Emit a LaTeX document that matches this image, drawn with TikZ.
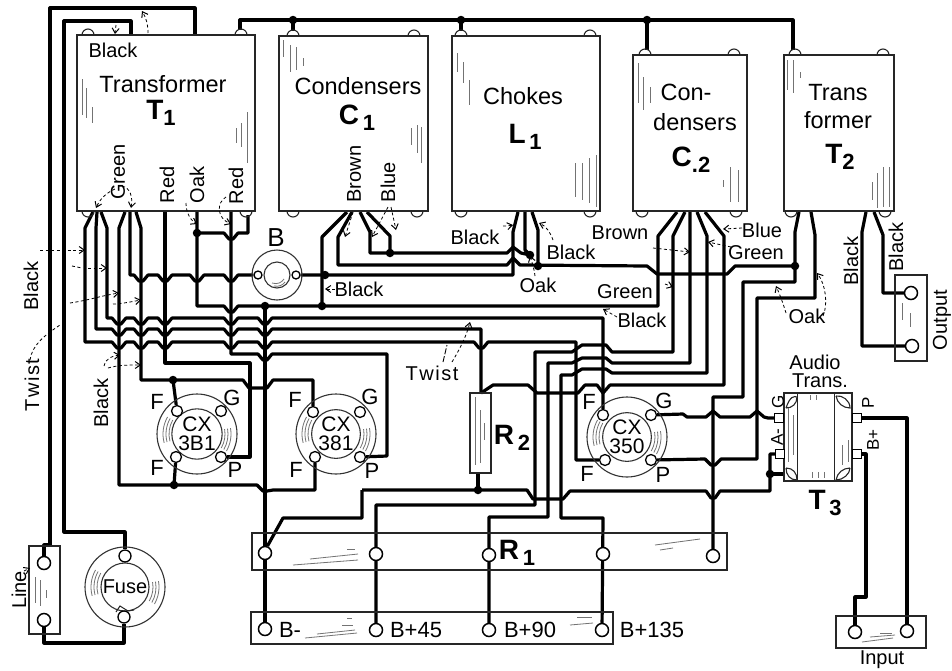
\documentclass[tikz,border=0pt]{standalone}
\usepackage{fontspec}
\setmainfont{Liberation Sans}
\usetikzlibrary{arrows.meta,backgrounds}
\newcommand{\fl}{\fontsize{20}{21}\selectfont}
\newcommand{\fh}{\fontsize{23.5}{25}\selectfont}
\newcommand{\ft}{\fontsize{21}{19}\selectfont}
\newcommand{\fp}{\fontsize{22}{22}\selectfont}
\newcommand{\bigsub}[2]{{\fontsize{28}{28}\selectfont\bfseries #1\raisebox{-6pt}{\fontsize{22}{22}\selectfont\bfseries #2}}}
\newcommand{\Dp}[2]{-- (#1-7,#2) -- (#1-2,#2+6) -- (#1+2,#2+6) -- (#1+7,#2)}
\tikzset{
  wire/.style={line width=3.2pt,line join=round,black},
  thinl/.style={line width=1pt,black!85},
  hatchl/.style={line width=0.8pt,black!55},
  leader/.style={line width=0.8pt,dash pattern=on 3pt off 2.5pt,-{Straight Barb[length=5pt,width=7pt,line width=1pt]}},
  box/.style={draw=black!85,line width=1.2pt,inner sep=0pt},
  term/.style={circle,draw=black,line width=1.3pt,fill=white,inner sep=0pt,minimum size=11pt},
  termb/.style={circle,draw=black,line width=1.5pt,fill=white,inner sep=0pt,minimum size=13pt},
  lug/.style={rectangle,draw=black,line width=1pt,fill=white,inner sep=0pt,minimum size=9pt},
  dotn/.style={circle,fill=black,inner sep=0pt,minimum size=8.5pt},
  tube/.style={circle,draw=black!80,line width=1.1pt,inner sep=0pt},
  lab/.style={inner sep=0pt,font=\fl},
  plab/.style={inner sep=0pt,font=\fp},
  vlab/.style={inner sep=0pt,font=\fl,rotate=90},
  head/.style={inner sep=0pt,font=\fh,align=center},
}
\begin{document}
\begin{tikzpicture}[x=1pt,y=-1pt]
\useasboundingbox (0,0) rectangle (952,670);

% ---- ears of the cans
\foreach \x/\y in {88/35,241/35,293/36,414/36,461/36,590/36,645/55,734/55,795/55,883/55}
  \draw[thinl,line width=1.1pt] (\x-6,\y) arc[start angle=180,end angle=0,radius=6pt];
\foreach \x/\y in {88/211,246/211,293/211,417/211,461/211,590/211,642/211,736/211,791/211,885/211}
  \draw[thinl,line width=1.1pt] (\x-6,\y) arc[start angle=180,end angle=360,radius=6pt];

% ---- cans
\node[box,minimum width=178pt,minimum height=176pt] (T1box) at (166,123) {};
\node[box,minimum width=149pt,minimum height=175pt] (C1box) at (353.5,123.5) {};
\node[box,minimum width=148pt,minimum height=175pt] (L1box) at (526,123.5) {};
\node[box,minimum width=114pt,minimum height=156pt] (C2box) at (690,133) {};
\node[box,minimum width=110pt,minimum height=156pt] (T2box) at (839,133) {};

% ---- terminal strips and parts
\node[box,minimum width=31pt,minimum height=88pt] (Linebox) at (44.5,590) {};
\node[box,minimum width=475pt,minimum height=37pt] (R1box) at (489.5,551.5) {};
\node[box,minimum width=362pt,minimum height=32pt] (Bbox) at (432,628) {};
\node[box,minimum width=32pt,minimum height=86pt] (Outbox) at (911,318) {};
\node[box,minimum width=90pt,minimum height=32pt] (Inbox) at (881,632) {};
\node[box,minimum width=21pt,minimum height=80pt] (R2box) at (480.5,433) {};

% ---- sockets
\node[tube,minimum size=80pt] (Fuseo) at (125,587) {};
\node[tube,minimum size=48pt,font=\fontsize{20}{20}\selectfont] (Fusei) at (125,587) {Fuse};
\node[tube,minimum size=50pt] (Bo) at (277,275) {};
\node[tube,minimum size=26pt] (Bi) at (277,275) {};
\node[tube,minimum size=80pt] (Sa) at (197,434) {};
\node[tube,minimum size=48pt,align=center,font=\ft] (Sai) at (197,434) {CX\\3B1};
\node[tube,minimum size=80pt] (Sb) at (336,434) {};
\node[tube,minimum size=48pt,align=center,font=\ft] (Sbi) at (336,434) {CX\\381};
\node[tube,minimum size=80pt] (Sc) at (627,437) {};
\node[tube,minimum size=48pt,align=center,font=\ft] (Sci) at (627,437) {CX\\350};

% ---- terminals
\node[termb] (LineA) at (44,563) {};
\node[termb] (LineB) at (44,620) {};
\node[term,minimum size=12pt] (FuseA) at (125,556) {};
\node[term,minimum size=12pt] (FuseB) at (124,617) {};
\node[term,minimum size=8pt] (BL) at (258,275) {};
\node[term,minimum size=8pt] (BR) at (296,275) {};
\node[term] (F1a) at (177,411) {};
\node[term] (G1) at (221,411) {};
\node[term] (F1b) at (176,457) {};
\node[term] (P1) at (221,457) {};
\node[term] (F2a) at (313,412) {};
\node[term] (G2) at (360,412) {};
\node[term] (F2b) at (315,457) {};
\node[term] (P2) at (360,457) {};
\node[term] (F3a) at (603,415) {};
\node[term] (G3) at (651,415) {};
\node[term] (F3b) at (605,460) {};
\node[term] (P3) at (651,460) {};
\node[termb] (R1a) at (265,553) {};
\node[termb] (R1b) at (376,554) {};
\node[termb] (R1c) at (489,555) {};
\node[termb] (R1d) at (603,554) {};
\node[termb] (R1e) at (713,556) {};
\node[termb] (Bm) at (265,629) {};
\node[termb] (B45) at (376,630) {};
\node[termb] (B90) at (489,630) {};
\node[termb] (B135) at (602,630) {};
\node[termb] (OutA) at (911,293) {};
\node[termb] (OutB) at (912,346) {};
\node[termb] (InA) at (855,632) {};
\node[termb] (InB) at (907,631) {};
\coordinate (R2a) at (481,393);
\coordinate (R2b) at (478,473);

% ---- audio transformer
\node[box,minimum width=68pt,minimum height=88pt] (T3box) at (818,437) {};
\draw[thinl] (T3box.north west)++(14,0) -- ++(0,88);
\draw[thinl] (T3box.north east)++(-18,0) -- ++(0,88);
\draw[thinl,line width=1.1pt] (786,408) .. controls (790,396) and (794,396) .. (797,397) .. controls (797,404) and (792,408) .. (786,408);
\draw[thinl,line width=1.1pt] (836,396) .. controls (842,395) and (850,400) .. (850,408) .. controls (843,408) and (837,403) .. (836,396);
\draw[thinl,line width=1.1pt] (786,468) .. controls (793,468) and (797,473) .. (797,480) .. controls (790,480) and (786,475) .. (786,468);
\draw[thinl,line width=1.1pt] (850,468) .. controls (850,474) and (843,480) .. (836,480) .. controls (837,473) and (843,468) .. (850,468);
\node[lug] (TGl) at (779,418) {};
\node[lug] (TAl) at (780,454) {};
\node[lug] (TPl) at (857,418) {};
\node[lug] (TBl) at (857,454) {};

% ---- pins on the can edges
\coordinate (TopA) at (240,30);
\coordinate (TopB) at (293,31);
\coordinate (TopC) at (461,31);
\coordinate (TopD) at (647,50);
\coordinate (TopE) at (793,50);
\coordinate (E1) at (195,35);
\coordinate (E2) at (131,35);

% ---- hatching
\foreach \x/\a/\b in {82/79/115,86/88/118,92/107/123,247/112/163,241/123/147,236/128/143,
  283/40/57,290/45/72,296/47/70,303/58/66,421/127/163,417/125/153,411/128/145,
  457/53/72,463/62/83,469/80/105,596/155/207,589/158/203,582/163/200,575/163/197,
  638/63/103,643/77/110,650/87/103,738/170/202,730/167/202,723/180/187,
  787/60/90,793/60/93,800/72/78,889/167/207,883/167/207,877/173/208,872/182/200,
  35/577/603,40/580/606,46/590/598,902/303/320,910/313/327,
  475/397/465,480/410/463,484/423/440,
  788/408/462,793/415/455,842/445/465,848/440/462,810/395/400,816/395/400,812/472/478,818/472/478,824/472/478}
  \draw[hatchl] (\x,\a) -- (\x,\b);
\foreach \xa/\ya/\xb/\yb in {310/559/358/554,293/565/358/560,347/549/355/549,655/545/700/539,660/550/673/548,
  305/638/357/633,317/634/355/630,342/625/353/625,347/618/352/618,570/625/593/623,577/617/592/617,
  862/642/893/638,870/637/895/635,880/633/892/633}
  \draw[hatchl] (\xa,\ya) -- (\xb,\yb);
\foreach \c in {Sa,Sb,Sc,Fuseo}{
  \foreach \q in {28,31,34}{
    \draw[hatchl] ([shift={(150:\q pt)}]\c.center) arc[start angle=150,end angle=195,radius=\q pt];
    \draw[hatchl] ([shift={(-30:\q pt)}]\c.center) arc[start angle=-30,end angle=10,radius=\q pt];
  }
}
\draw[hatchl] (272,283) .. controls (278,285) and (282,282) .. (284,279);
\draw[hatchl] (274,286) .. controls (279,287) and (283,285) .. (285,282);
\draw[thinl] (116,612) -- (120,606) -- (128,611) -- (134,610);

% ---- wires (behind the terminals)
\begin{scope}[on background layer]
\fill[white] (0,0) rectangle (952,670);
\draw[wire] (E1) -- (195,8) -- (50,8) -- (50,545) -- (44,545) -- (LineA);
\draw[wire] (E2) -- (131,21) -- (64,21) -- (64,532) -- (125,532) -- (FuseA);
\draw[wire] (FuseB) -- (124,643) -- (44,643) -- (LineB);
\draw[wire] (TopA) -- (240,20) -- (793,20) -- (TopE);
\draw[wire] (293,20) -- (TopB);
\draw[wire] (461,20) -- (TopC);
\draw[wire] (647,20) -- (TopD);
% T1 fan
\draw[wire] (93,212) -- (85,228) -- (85,342) \Dp{119}{342} \Dp{141}{342} \Dp{165}{342} \Dp{231}{342} \Dp{265}{342} \Dp{481}{342} -- (576,342) -- (576,460) -- (F3b);
\draw[wire] (97,212) -- (96,228) -- (96,329) \Dp{119}{329} \Dp{141}{329} \Dp{165}{329} \Dp{231}{329} \Dp{265}{329} -- (481,329) -- (R2a);
\draw[wire] (101,212) -- (107,228) -- (107,318) \Dp{119}{318} \Dp{141}{318} \Dp{165}{318} \Dp{231}{318} \Dp{265}{318} -- (603,318) -- (F3a);
\draw[wire] (125,212) -- (119,228) -- (119,485) -- (257,485) -- (263,491) -- (267,491) -- (273,490) -- (315,490) -- (F2b);
\draw[wire] (F1b) -- (174,485);
\draw[wire] (130,212) -- (130,275) \Dp{141}{275} \Dp{165}{275} \Dp{197}{275} \Dp{231}{275} -- (BL);
\draw[wire] (136,212) -- (141,228) -- (141,380) -- (243,380) -- (249,388) -- (267,388) -- (273,380) -- (313,380) -- (F2a);
\draw[wire] (F1a) -- (173,380);
\draw[wire] (165,212) -- (165,363) -- (250,363) -- (250,457) -- (P1);
\draw[wire] (197,212) -- (197,306) \Dp{231}{306} -- (658,306) -- (658,236) -- (677,212);
\draw[wire] (197,233) \Dp{231}{233} -- (248,233) -- (248,215);
\draw[wire] (231,212) -- (231,354) \Dp{265}{354} -- (387,354) -- (387,456) -- (P2);
\draw[wire] (265,306) -- (Bm);
% C1 fan
\draw[wire] (347,212) -- (322,237) -- (322,306);
\draw[wire] (352,212) -- (338,237) -- (338,265) -- (507,265) -- (513,258) -- (520,265) -- (647,266) -- (657,274) -- (727,274) -- (735,266) -- (795,266);
\draw[wire] (360,212) -- (370,232) -- (370,253) -- (507,253) -- (513,247) -- (521,253) -- (530,255);
\draw[wire] (367,212) -- (390,236) -- (390,253);
% L1 fan
\draw[wire] (518,212) -- (513,232) -- (513,275) -- (BR);
\draw[wire] (525,212) -- (525,250) -- (530,255);
\draw[wire] (532,212) -- (538,230) -- (538,266);
% C2 fan
\draw[wire] (685,212) -- (673,236) -- (673,352) -- (612,352) -- (606,345) -- (582,345) -- (572,352) -- (535,352) -- (535,505) -- (376,505) -- (B45);
\draw[wire] (690,212) -- (690,363) -- (612,363) -- (606,358) -- (582,358) -- (572,363) -- (548,363) -- (548,517) -- (489,517) -- (B90);
\draw[wire] (697,212) -- (707,236) -- (707,373) -- (612,373) -- (606,369) -- (582,369) -- (572,375) -- (561,375) -- (561,518) -- (603,518) -- (B135);
\draw[wire] (705,212) -- (724,236) -- (724,385) -- (610,385) -- (603,393) -- (597,385) -- (585,385) -- (578,393) -- (537,393) -- (528,385) -- (493,385) -- (R2a);
% T2
\draw[wire] (799,212) -- (795,232) -- (795,282) -- (743,282) -- (743,397) -- (713,397) -- (R1e);
\draw[wire] (P3) -- (705,459) -- (711,465) -- (715,465) -- (721,459) -- (757,459) -- (757,298) -- (815,298) -- (815,235) -- (811,212);
\draw[wire] (866,212) -- (862,232) -- (862,346) -- (OutB);
\draw[wire] (874,212) -- (883,235) -- (883,293) -- (OutA);
\draw[wire] (G3) -- (683,414) -- (687,417) -- (706,417) -- (713,411) -- (720,417) -- (750,417) -- (757,411) -- (764,417) -- (768,418) -- (TGl);
% lower bus
\draw[wire] (R2b) -- (478,490);
\draw[wire] (362,490) -- (527,490) -- (533,499) -- (563,499) -- (570,491) -- (706,491) -- (711,498) -- (715,498) -- (720,491) -- (770,491) -- (770,454) -- (TAl);
\draw[wire] (770,474) -- (784,474);
\draw[wire] (362,490) -- (362,518) -- (283,518) -- (268,545) -- (R1a);
\draw[wire] (TPl) -- (907,418) -- (InB);
\draw[wire] (TBl) -- (866,454) -- (866,597) -- (855,597) -- (InA);
\end{scope}

% ---- junction dots
\foreach \x/\y in {293/20,461/20,647/20,197/233,174/485,173/380,265/306,325/275,322/306,390/253,530/255,538/266,795/266,478/490,770/474}
  \node[dotn] at (\x,\y) {};

% ---- leaders
\draw[leader] (116,25) -- (115,34);
\draw[leader] (148,33) .. controls (148,24) and (146,18) .. (142,11);
\draw[leader] (115,189) .. controls (106,193) and (100,199) .. (96,208);
\draw[leader] (122,186) .. controls (130,188) and (133,196) .. (131,208);
\draw[leader] (186,203) .. controls (186,212) and (190,220) .. (197,224);
\draw[leader] (226,197) .. controls (216,203) and (217,218) .. (231,224);
\draw[leader] (353,212) -- (345,237);
\draw[leader] (388,207) -- (372,237);
\draw[leader] (391,207) -- (396,230);
\draw[leader] (40,250) -- (85,250);
\draw[dash pattern=on 3pt off 2.5pt,line width=.8pt] (72,266) -- (82,268);
\draw[leader] (88,268) -- (107,268);
\draw[leader] (70,303) .. controls (90,300) and (100,296) .. (119,293);
\draw[leader] (113,304) .. controls (120,304) and (130,302) .. (141,300);
\draw[leader] (104,366) .. controls (106,358) and (112,356) .. (120,355);
\draw[leader] (108,368) .. controls (118,365) and (128,365) .. (141,365);
\draw[dash pattern=on 3pt off 2.5pt,line width=.8pt] (30,360) .. controls (32,345) and (45,335) .. (60,325);
\draw[leader] (335,289) -- (325,289);
\draw[leader] (503,226) .. controls (505,226) and (508,226) .. (513,225);
\draw[leader] (553,240) .. controls (550,232) and (546,226) .. (539,223);
\draw[leader] (535,276) .. controls (534,268) and (532,262) .. (530,256);
\draw[leader] (653,248) -- (690,252);
\draw[leader] (665,284) -- (673,287);
\draw[leader] (617,317) -- (603,309);
\draw[leader] (742,228) -- (723,229);
\draw[leader] (731,247) -- (708,242);
\draw[leader] (786,313) .. controls (783,303) and (780,295) .. (776,286);
\draw[leader] (823,316) .. controls (828,305) and (826,285) .. (817,273);
\draw[leader] (452,362) .. controls (458,352) and (466,338) .. (470,322);
\draw[dash pattern=on 6pt off 2pt,line width=.9pt] (443,362) -- (447,345);
\draw[leader] (24,571) -- (30,568);

% ---- labels
\node[lab] (tBlack1) at (113,50) {Black};
\node[head] (tT1a) at (163,84) {Transformer};
\node[inner sep=0pt] (tT1b) at (161,113) {\bigsub{T}{1}};
\node[head] (tC1a) at (358,86) {Condensers};
\node[inner sep=0pt] (tC1b) at (357,118) {\bigsub{C}{\,1}};
\node[head] (tL1a) at (523,96) {Chokes};
\node[inner sep=0pt] (tL1b) at (525,137) {\bigsub{L}{\,1}};
\node[head] (tC2a) at (686,92) {Con-};
\node[head] (tC2b) at (695,122) {densers};
\node[inner sep=0pt] (tC2c) at (691,160) {\bigsub{C}{.2}};
\node[head] (tT2a) at (838,93) {Trans};
\node[head] (tT2b) at (838,120) {former};
\node[inner sep=0pt] (tT2c) at (840,157) {\bigsub{T}{2}};

\node[vlab] (vGreen) at (118,172) {Green};
\node[vlab] (vRed1) at (167,185) {Red};
\node[vlab] (vOak) at (197,185) {Oak};
\node[vlab] (vRed2) at (236,186) {Red};
\node[vlab] (vBrown) at (354,174) {Brown};
\node[vlab] (vBlue) at (388,182) {Blue};
\node[vlab] (vBlackL) at (31,286) {Black};
\node[vlab] (vTwistL) at (32,385) {T\hspace{1.5pt}w\hspace{1.5pt}i\hspace{1.5pt}s\hspace{1.5pt}t};
\node[vlab] (vBlackL2) at (101,403) {Black};
\node[vlab] (vLine) at (19,590) {Line};
\node[vlab] (vOutput) at (942,320) {Output};
\node[vlab] (vBlackO1) at (851,261) {Black};
\node[vlab] (vBlackO2) at (896,247) {Black};

\node[lab] (tBlackC) at (359,289) {Black};
\node[lab] (tBlackL) at (475,237) {Black};
\node[lab] (tBlackR) at (571,252) {Black};
\node[lab] (tBrown) at (620,233) {Brown};
\node[lab] (tOak) at (538,285) {Oak};
\node[lab] (tGreenA) at (625,292) {Green};
\node[lab] (tBlackM) at (642,320) {Black};
\node[lab] (tBlue) at (762,230) {Blue};
\node[lab] (tGreenB) at (756,253) {Green};
\node[lab] (tOakR) at (807,316) {Oak};
\node[lab] (tTwist) at (432,373) {T\hspace{1.5pt}w\hspace{1.5pt}i\hspace{1.5pt}s\hspace{1.5pt}t};
\node[inner sep=0pt,font=\fontsize{26}{26}\selectfont] (tB) at (276,238) {B};

\node[plab] (lF1) at (157,402) {F};
\node[plab] (lG1) at (232,398) {G};
\node[plab] (lF1b) at (157,468) {F};
\node[plab] (lP1) at (235,470) {P};
\node[plab] (lF2) at (295,400) {F};
\node[plab] (lG2) at (370,397) {G};
\node[plab] (lF2b) at (296,470) {F};
\node[plab] (lP2) at (372,471) {P};
\node[plab] (lF3) at (589,402) {F};
\node[plab] (lG3) at (664,401) {G};
\node[plab] (lF3b) at (587,474) {F};
\node[plab] (lP3) at (663,475) {P};

\node[inner sep=0pt] (tR2) at (512,438) {\bigsub{R}{\,2}};
\node[inner sep=0pt] (tR1) at (517,553) {\bigsub{R}{\,1}};
\node[inner sep=0pt] (tT3) at (825,503) {\bigsub{T}{\,3}};

\node[plab] (tBm) at (290,630) {B-};
\node[plab] (tB45) at (416,630) {B+45};
\node[plab] (tB90) at (530,630) {B+90};
\node[plab] (tB135) at (652,630) {B+135};
\node[lab] (tAudio) at (815,362) {Audio};
\node[lab] (tTrans) at (820,381) {Trans.};
\node[lab] (tInput) at (882,660) {Input};
\node[vlab,font=\fontsize{17}{17}\selectfont] (vG) at (778,402) {G};
\node[vlab,font=\fontsize{17}{17}\selectfont] (vA) at (777,437) {A-};
\node[vlab,font=\fontsize{17}{17}\selectfont] (vP) at (868,403) {P};
\node[vlab,font=\fontsize{17}{17}\selectfont] (vBp) at (873,440) {B+};
\end{tikzpicture}
\end{document}
